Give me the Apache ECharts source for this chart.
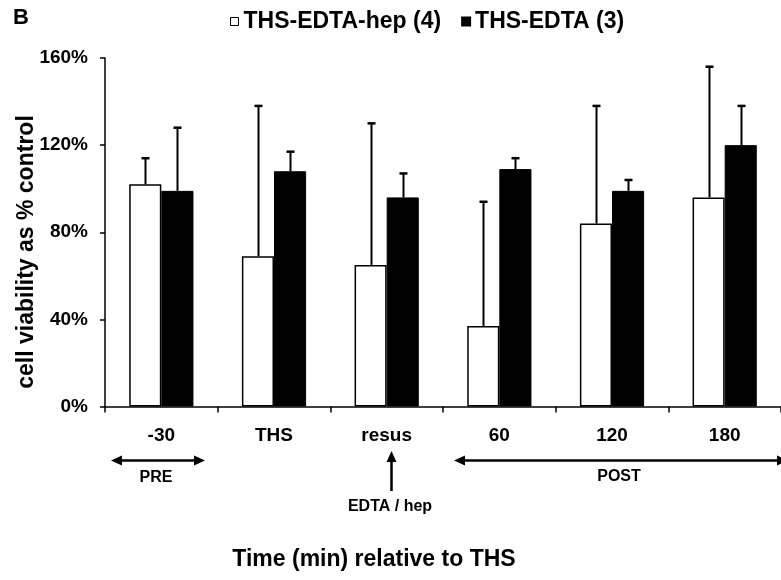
<!DOCTYPE html>
<html>
<head>
<meta charset="utf-8">
<script src="https://cdn.jsdelivr.net/npm/echarts@6/dist/echarts.min.js"></script>
<style>
  html, body { margin: 0; padding: 0; background: #fff; }
  #chart { width: 781px; height: 580px; }
</style>
</head>
<body>
<div id="chart"></div>
<script>
// 时间点
const categories = ['-30', 'THS', 'resus', '60', '120', '180'];
// THS-EDTA-hep (4)
const hepMean = [102, 69, 65, 37, 84, 96];
const hepErr = [12, 69, 65, 57, 54, 60];
// THS-EDTA (3)
const edtaMean = [99, 108, 96, 109, 99, 120];
const edtaErr = [29, 9, 11, 5, 5, 18];
const yTicks = [0, 40, 80, 120, 160];

const FONT = "'Liberation Sans', Arial, sans-serif";
const GAP = 0.43;

// 误差线（只画向上的一半）
function errorBar(side) {
  return function (params, api) {
    let idx = api.value(0);
    let base = api.coord([idx, api.value(1)]);
    let top = api.coord([idx, api.value(2)]);
    let band = api.size([1, 0])[0];
    let barW = band * (1 - GAP) / 2;
    let x = Math.round(base[0] + side * barW / 2) + 0.5;
    return {
      type: 'group',
      children: [
        { type: 'line', shape: { x1: x, y1: base[1], x2: x, y2: top[1] }, style: { stroke: '#000', lineWidth: 2 } },
        { type: 'line', shape: { x1: x - 4, y1: top[1], x2: x + 4, y2: top[1] }, style: { stroke: '#000', lineWidth: 2.5 } }
      ]
    };
  };
}

function arrowHead(x, y, dir) {
  // dir: 'left' | 'right' | 'up'
  let p;
  if (dir === 'left') p = [[x, y], [x + 11, y - 5], [x + 11, y + 5]];
  else if (dir === 'right') p = [[x, y], [x - 11, y - 5], [x - 11, y + 5]];
  else p = [[x, y], [x - 5, y + 11], [x + 5, y + 11]];
  return { type: 'polygon', shape: { points: p }, style: { fill: '#000' } };
}

function label(text, x, y, size) {
  return {
    type: 'text', x: x, y: y,
    style: { text: text, font: 'bold ' + size + 'px ' + FONT, fill: '#000', align: 'center', verticalAlign: 'middle' }
  };
}

let chart = echarts.init(document.getElementById('chart'));
let option = {
  backgroundColor: '#fff',
  animation: false,
  textStyle: { fontFamily: FONT },
  legend: {
    left: 225,
    top: 5,
    itemWidth: 8,
    itemHeight: 8,
    itemGap: 20,
    textStyle: { color: '#000', fontSize: 23, fontWeight: 'bold', fontFamily: FONT },
    data: [
      { name: 'THS-EDTA-hep (4)', icon: 'rect', itemStyle: { color: '#fff', borderColor: '#000', borderWidth: 1 } },
      { name: 'THS-EDTA (3)', icon: 'rect', itemStyle: { color: '#000' } }
    ]
  },
  grid: {
    left: 105,
    top: 58,
    width: 687,
    height: 348.5
  },
  xAxis: {
    type: 'category',
    data: categories,
    boundaryGap: true,
    axisLine: { lineStyle: { color: '#000', width: 1.5 } },
    axisTick: { show: true, alignWithLabel: false, interval: 0, length: 6, lineStyle: { color: '#000', width: 1.5 } },
    axisLabel: { color: '#000', fontSize: 19, fontWeight: 'bold', fontFamily: FONT, margin: 20, interval: 0 },
    splitLine: { show: false }
  },
  yAxis: {
    type: 'value',
    min: yTicks[0],
    max: yTicks[yTicks.length - 1],
    interval: 40,
    axisLine: { show: true, lineStyle: { color: '#000', width: 1.5 } },
    axisTick: { show: true, length: 5, lineStyle: { color: '#000', width: 1.5 } },
    axisLabel: { color: '#000', fontSize: 19, fontWeight: 'bold', fontFamily: FONT, margin: 17, formatter: '{value}%' },
    splitLine: { show: false }
  },
  series: [
    {
      name: 'THS-EDTA-hep (4)',
      type: 'bar',
      data: hepMean,
      barGap: '0%',
      barCategoryGap: (GAP * 100) + '%',
      itemStyle: { color: '#fff', borderColor: '#000', borderWidth: 1.5 }
    },
    {
      name: 'THS-EDTA (3)',
      type: 'bar',
      data: edtaMean,
      barGap: '0%',
      barCategoryGap: (GAP * 100) + '%',
      itemStyle: { color: '#000', borderColor: '#000', borderWidth: 1 }
    },
    {
      type: 'custom',
      renderItem: errorBar(-1),
      encode: { x: 0, y: [1, 2] },
      z: 5,
      data: hepMean.map((v, i) => [i, v, v + hepErr[i]])
    },
    {
      type: 'custom',
      renderItem: errorBar(1),
      encode: { x: 0, y: [1, 2] },
      z: 5,
      data: edtaMean.map((v, i) => [i, v, v + edtaErr[i]])
    }
  ],
  graphic: [
    {
      type: 'text', left: 13, top: 7,
      style: { text: 'B', font: 'bold 22px ' + FONT, fill: '#000' }
    },
    {
      type: 'text', x: 27, y: 252, rotation: Math.PI / 2,
      style: { text: 'cell viability as % control', font: 'bold 23px ' + FONT, fill: '#000', align: 'center', verticalAlign: 'middle' }
    },
    label('Time (min) relative to THS', 374, 560, 23),
    // PRE
    { type: 'line', shape: { x1: 116, y1: 460.5, x2: 200, y2: 460.5 }, style: { stroke: '#000', lineWidth: 2.5 } },
    arrowHead(111, 460.5, 'left'),
    arrowHead(205, 460.5, 'right'),
    label('PRE', 156, 478, 16),
    // EDTA / hep
    { type: 'line', shape: { x1: 391.5, y1: 458, x2: 391.5, y2: 491 }, style: { stroke: '#000', lineWidth: 2.5 } },
    arrowHead(391.5, 451, 'up'),
    label('EDTA / hep', 390, 507, 16),
    // POST
    { type: 'line', shape: { x1: 459, y1: 460.5, x2: 784, y2: 460.5 }, style: { stroke: '#000', lineWidth: 2.5 } },
    arrowHead(454, 460.5, 'left'),
    arrowHead(788, 460.5, 'right'),
    label('POST', 619, 477, 16)
  ]
};
chart.setOption(option);
</script>
</body>
</html>
